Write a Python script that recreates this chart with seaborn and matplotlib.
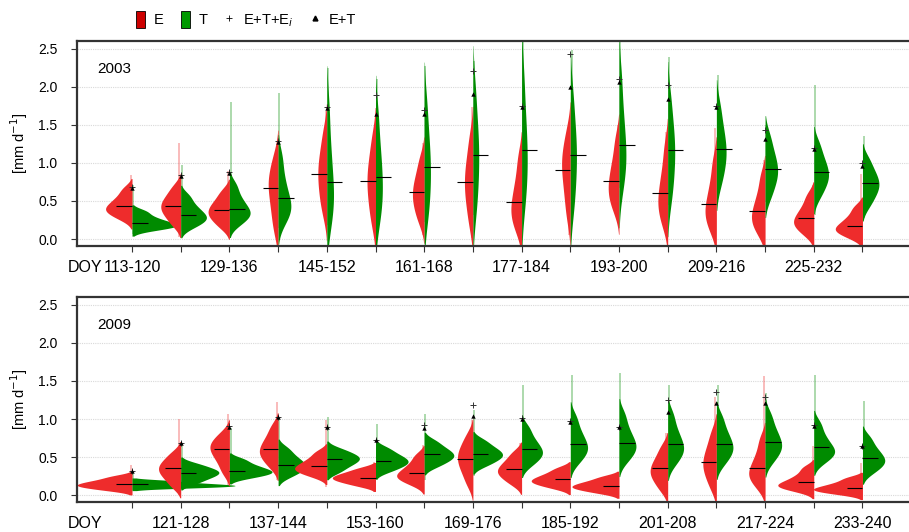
import numpy as np
import pandas as pd
import matplotlib
matplotlib.use("Agg")
import matplotlib.pyplot as plt
from matplotlib.patches import Patch
from matplotlib.lines import Line2D
import seaborn as sns

periods = ["113-120", "121-128", "129-136", "137-144", "145-152", "153-160",
           "161-168", "169-176", "177-184", "185-192", "193-200", "201-208",
           "209-216", "217-224", "225-232", "233-240"]

# ---------------- 2003 (mm/day) ----------------
E03 = [
    [0.273, 0.341, 0.383, 0.42, 0.479, 0.546, 0.655],
    [0.195, 0.304, 0.371, 0.43, 0.493, 0.564, 0.68],
    [0.164, 0.259, 0.318, 0.37, 0.433, 0.504, 0.62],
    [0.12, 0.34, 0.51, 0.66, 0.765, 0.884, 1.077],
    [0.36, 0.562, 0.72, 0.86, 0.995, 1.148, 1.396],
    [0.22, 0.447, 0.614, 0.76, 0.902, 1.064, 1.324],
    [0.24, 0.397, 0.51, 0.61, 0.719, 0.845, 1.046],
    [0.20, 0.446, 0.608, 0.75, 0.896, 1.063, 1.332],
    [0.13, 0.265, 0.374, 0.47, 0.62, 0.789, 1.063],
    [0.30, 0.56, 0.751, 0.92, 1.041, 1.177, 1.398],
    [0.40, 0.537, 0.65, 0.75, 0.89, 1.048, 1.306],
    [0.20, 0.354, 0.475, 0.58, 0.739, 0.919, 1.211],
    [0.12, 0.255, 0.353, 0.44, 0.584, 0.748, 1.013],
    [0.08, 0.196, 0.278, 0.35, 0.47, 0.604, 0.824],
    [0.069, 0.157, 0.212, 0.26, 0.338, 0.426, 0.569],
    [0.028, 0.089, 0.127, 0.16, 0.223, 0.294, 0.41],
]
T03 = [
    [0.126, 0.16, 0.181, 0.20, 0.241, 0.287, 0.362],
    [0.163, 0.231, 0.273, 0.31, 0.373, 0.444, 0.56],
    [0.204, 0.285, 0.336, 0.38, 0.461, 0.554, 0.703],
    [0.24, 0.349, 0.429, 0.50, 0.642, 0.804, 1.064],
    [0.20, 0.40, 0.57, 0.72, 0.97, 1.253, 1.712],
    [0.24, 0.448, 0.635, 0.80, 1.009, 1.248, 1.633],
    [0.28, 0.535, 0.75, 0.94, 1.149, 1.388, 1.773],
    [0.36, 0.652, 0.891, 1.10, 1.315, 1.559, 1.953],
    [0.44, 0.723, 0.95, 1.15, 1.40, 1.683, 2.142],
    [0.38, 0.673, 0.90, 1.10, 1.30, 1.527, 1.894],
    [0.68, 0.90, 1.07, 1.22, 1.445, 1.701, 2.114],
    [0.52, 0.776, 0.974, 1.15, 1.326, 1.524, 1.845],
    [0.74, 0.932, 1.064, 1.18, 1.319, 1.476, 1.731],
    [0.565, 0.729, 0.831, 0.92, 1.026, 1.146, 1.34],
    [0.576, 0.712, 0.796, 0.87, 0.963, 1.068, 1.238],
    [0.451, 0.58, 0.66, 0.73, 0.808, 0.896, 1.039],
]
E03_mean = [0.43, 0.44, 0.38, 0.67, 0.86, 0.76, 0.62, 0.75, 0.49, 0.91, 0.76, 0.60, 0.46, 0.37, 0.27, 0.17]
T03_mean = [0.21, 0.32, 0.40, 0.54, 0.75, 0.81, 0.95, 1.11, 1.17, 1.11, 1.24, 1.17, 1.19, 0.92, 0.88, 0.74]
ET03 = [0.67, 0.83, 0.87, 1.28, 1.72, 1.65, 1.64, 1.91, 1.74, 2.00, 2.07, 1.84, 1.73, 1.32, 1.19, 0.96]
ETEi03 = [0.68, 0.84, 0.88, 1.29, 1.74, 1.89, 1.70, 2.21, 1.75, 2.44, 2.10, 2.03, 1.75, 1.43, 1.20, 1.00]
E03_lo = [0.18, 0.03, 0.05, 0.07, 0.20, 0.10, 0.05, 0.01, 0.05, 0.05, 0.25, 0.10, 0.01, 0.00, 0.00, -0.05]
E03_hi = [0.84, 1.26, 0.89, 1.15, 1.68, 1.37, 1.26, 1.74, 1.15, 1.46, 1.50, 1.41, 1.46, 1.04, 0.71, 0.86]
T03_lo = [0.06, 0.10, 0.10, 0.14, 0.18, 0.23, 0.23, 0.32, 0.40, 0.32, 0.67, 0.45, 0.62, 0.49, 0.32, 0.27]
T03_hi = [0.71, 0.97, 1.80, 1.92, 2.25, 2.11, 2.27, 2.34, 2.60, 2.49, 2.60, 2.40, 2.16, 1.50, 2.03, 1.35]

# ---------------- 2009 ----------------
E09 = [
    [0.066, 0.10, 0.121, 0.14, 0.166, 0.195, 0.243],
    [0.119, 0.221, 0.284, 0.34, 0.392, 0.451, 0.546],
    [0.306, 0.442, 0.526, 0.60, 0.652, 0.711, 0.806],
    [0.379, 0.481, 0.544, 0.60, 0.674, 0.758, 0.894],
    [0.252, 0.307, 0.34, 0.37, 0.418, 0.473, 0.561],
    [0.127, 0.175, 0.204, 0.23, 0.26, 0.293, 0.348],
    [0.148, 0.209, 0.247, 0.28, 0.339, 0.406, 0.515],
    [0.157, 0.306, 0.399, 0.48, 0.554, 0.638, 0.774],
    [0.154, 0.235, 0.286, 0.33, 0.386, 0.449, 0.551],
    [0.097, 0.145, 0.174, 0.20, 0.237, 0.279, 0.347],
    [0.032, 0.073, 0.098, 0.12, 0.15, 0.183, 0.238],
    [0.08, 0.196, 0.267, 0.33, 0.404, 0.488, 0.624],
    [0.107, 0.256, 0.349, 0.43, 0.526, 0.635, 0.812],
    [0.109, 0.211, 0.274, 0.33, 0.43, 0.543, 0.727],
    [0.062, 0.103, 0.128, 0.15, 0.202, 0.261, 0.356],
    [0.016, 0.05, 0.071, 0.09, 0.123, 0.161, 0.222],
]
T09 = [
    [0.093, 0.11, 0.121, 0.13, 0.145, 0.162, 0.189],
    [0.158, 0.219, 0.257, 0.29, 0.32, 0.353, 0.408],
    [0.232, 0.273, 0.298, 0.32, 0.357, 0.399, 0.467],
    [0.253, 0.321, 0.363, 0.40, 0.452, 0.511, 0.606],
    [0.308, 0.383, 0.429, 0.47, 0.503, 0.541, 0.602],
    [0.318, 0.379, 0.417, 0.45, 0.491, 0.537, 0.612],
    [0.383, 0.451, 0.493, 0.53, 0.574, 0.625, 0.706],
    [0.393, 0.461, 0.503, 0.54, 0.584, 0.635, 0.716],
    [0.404, 0.49, 0.543, 0.59, 0.662, 0.744, 0.878],
    [0.44, 0.542, 0.605, 0.66, 0.75, 0.851, 1.015],
    [0.46, 0.562, 0.625, 0.68, 0.773, 0.88, 1.051],
    [0.423, 0.532, 0.60, 0.66, 0.758, 0.869, 1.049],
    [0.423, 0.532, 0.60, 0.66, 0.75, 0.851, 1.015],
    [0.453, 0.562, 0.63, 0.69, 0.78, 0.881, 1.045],
    [0.441, 0.519, 0.567, 0.61, 0.691, 0.783, 0.931],
    [0.304, 0.385, 0.436, 0.48, 0.547, 0.622, 0.745],
]
E09_mean = [0.14, 0.35, 0.60, 0.60, 0.38, 0.23, 0.29, 0.48, 0.34, 0.21, 0.12, 0.35, 0.44, 0.35, 0.17, 0.09]
T09_mean = [0.14, 0.29, 0.32, 0.40, 0.47, 0.45, 0.54, 0.54, 0.60, 0.67, 0.69, 0.67, 0.67, 0.70, 0.63, 0.49]
ET09 = [0.31, 0.68, 0.90, 1.02, 0.89, 0.72, 0.88, 1.04, 1.00, 0.96, 0.89, 1.09, 1.21, 1.21, 0.91, 0.64]
ETEi09 = [0.31, 0.69, 0.91, 1.03, 0.90, 0.73, 0.92, 1.18, 1.01, 0.97, 0.90, 1.25, 1.35, 1.29, 0.92, 0.65]
E09_lo = [0.00, 0.00, 0.11, 0.20, 0.11, 0.04, 0.07, 0.04, 0.07, 0.02, -0.02, 0.00, 0.00, 0.00, 0.00, -0.02]
E09_hi = [0.39, 1.00, 1.07, 1.23, 0.99, 0.44, 0.66, 0.99, 0.68, 0.37, 0.24, 0.81, 1.29, 1.56, 0.64, 0.42]
T09_lo = [0.07, 0.10, 0.15, 0.20, 0.20, 0.20, 0.20, 0.25, 0.30, 0.30, 0.30, 0.35, 0.30, 0.30, 0.30, 0.20]
T09_hi = [0.29, 0.68, 0.88, 1.00, 1.03, 0.94, 1.07, 1.12, 1.45, 1.58, 1.60, 1.45, 1.45, 1.34, 1.58, 1.24]

RED = "#EE2C2C"
GREEN = "#008B00"

sns.set_theme(style="white")
plt.rcParams["font.family"] = ["Liberation Sans", "DejaVu Sans"]
plt.rcParams["text.color"] = "black"
plt.rcParams["xtick.color"] = "black"
plt.rcParams["ytick.color"] = "black"
plt.rcParams["axes.labelcolor"] = "black"

fig = plt.figure(figsize=(9.09, 5.32), dpi=100)
ax1 = fig.add_axes([0.0847, 0.5376, 0.915, 0.3854])
ax2 = fig.add_axes([0.0847, 0.0564, 0.915, 0.3853])


def long_df(E, T):
    rows = []
    for p, ev, tv in zip(periods, E, T):
        for v in ev:
            rows.append((p, "E", v))
        for v in tv:
            rows.append((p, "T", v))
    return pd.DataFrame(rows, columns=["period", "part", "value"])


def panel(ax, E, T, Em, Tm, ET, ETEi, Elo, Ehi, Tlo, Thi, year, width):
    df = long_df(E, T)
    xs = np.arange(len(periods))
    # pale tails (extreme values)
    ax.vlines(xs - 0.025, Elo, Ehi, color=RED, alpha=0.35, lw=1.3, zorder=1)
    ax.vlines(xs + 0.025, Tlo, Thi, color=GREEN, alpha=0.35, lw=1.3, zorder=1)
    sns.violinplot(data=df, x="period", y="value", hue="part", order=periods,
                   hue_order=["E", "T"], split=True, inner=None,
                   palette={"E": RED, "T": GREEN}, linewidth=0, saturation=1,
                   density_norm="area", common_norm=True, cut=2, bw_adjust=0.8,
                   width=width, gap=0, legend=False, ax=ax)
    for c in ax.collections:
        c.set_zorder(2)
    ax.hlines(Em, xs - 0.32, xs, color="black", lw=0.8, zorder=4)
    ax.hlines(Tm, xs, xs + 0.32, color="black", lw=0.8, zorder=4)
    ax.scatter(xs, ETEi, marker="+", s=24, color="#333333", linewidths=0.7, zorder=5)
    ax.scatter(xs, ET, marker="^", s=10, color="black", linewidths=0, zorder=6)

    ax.set_xlim(-1.13, 15.95)
    ax.set_ylim(-0.092, 2.605)
    ax.set_yticks([0, 0.5, 1.0, 1.5, 2.0, 2.5])
    ax.set_yticklabels(["0.0", "0.5", "1.0", "1.5", "2.0", "2.5"], fontsize=10)
    ax.set_xticks(xs)
    ax.grid(axis="y", color="#d9d9d9", linestyle=(0, (1, 1)), lw=0.8)
    ax.grid(axis="x", visible=False)
    ax.set_axisbelow(True)
    ax.set_xlabel("")
    ax.set_ylabel("[mm d$^{-1}$]", fontsize=10.5, labelpad=6)
    ax.tick_params(axis="both", direction="out", length=4, width=0.8, color="#333333",
                   bottom=True, left=True)
    ax.tick_params(axis="y", pad=10)
    ax.tick_params(axis="x", pad=6)
    for s in ["top", "bottom", "left"]:
        ax.spines[s].set_color("#333333")
        ax.spines[s].set_linewidth(1.6)
    ax.spines["right"].set_visible(False)
    ax.text(0.024, 0.865, year, transform=ax.transAxes, fontsize=11, va="center")
    ax.annotate("DOY", xy=(-1.31, 0), xycoords=ax.get_xaxis_transform(),
                xytext=(0, -10), textcoords="offset points", va="top", ha="left",
                fontsize=11.5, annotation_clip=False)


panel(ax1, E03, T03, E03_mean, T03_mean, ET03, ETEi03, E03_lo, E03_hi, T03_lo, T03_hi,
      "2003", 1.85)
ax1.set_xticklabels([p if i % 2 == 0 else "" for i, p in enumerate(periods)], fontsize=11.5)
panel(ax2, E09, T09, E09_mean, T09_mean, ET09, ETEi09, E09_lo, E09_hi, T09_lo, T09_hi,
      "2009", 4.23)
ax2.set_xticklabels([p if i % 2 == 1 else "" for i, p in enumerate(periods)], fontsize=11.5)

handles = [
    Patch(facecolor="#CC0000", edgecolor="black", lw=0.6),
    Patch(facecolor="#009900", edgecolor="black", lw=0.6),
    Line2D([], [], marker="+", color="black", lw=0, markersize=4, markeredgewidth=0.6),
    Line2D([], [], marker="^", color="black", lw=0, markersize=3.5),
]
fig.legend(handles, ["E", "T", "E+T+E$_i$", "E+T"], loc="center",
           bbox_to_anchor=(0.2705, 0.962), ncol=4, frameon=False, fontsize=10.5,
           handlelength=0.65, handleheight=1.35, handletextpad=0.6, columnspacing=1.15)

fig.savefig("out.png", dpi=100)
